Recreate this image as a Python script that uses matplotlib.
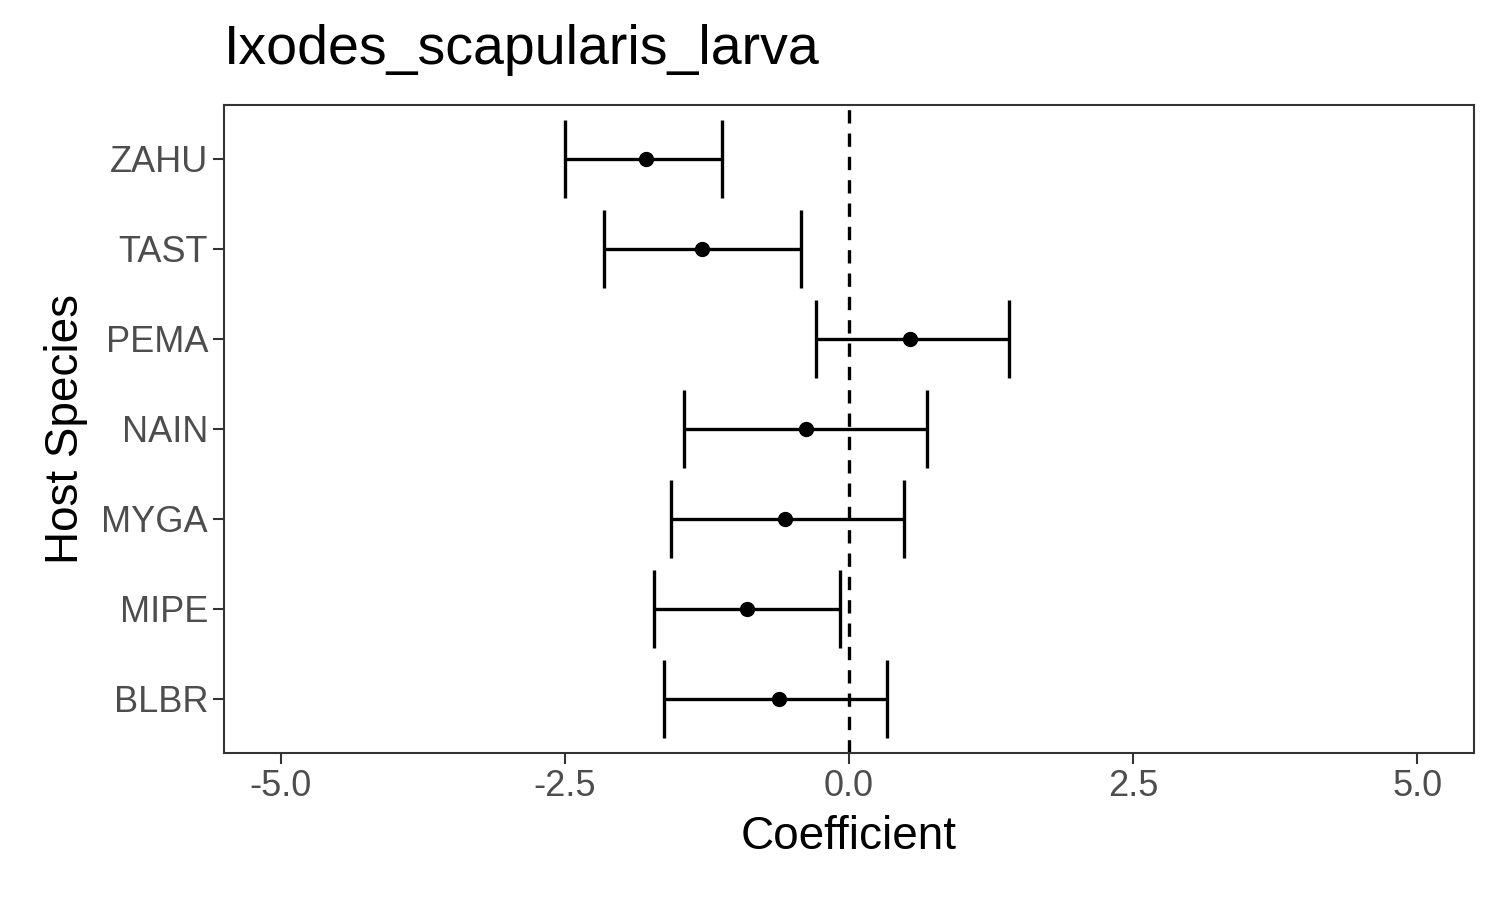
import matplotlib
matplotlib.use("Agg")
import matplotlib.pyplot as plt

species = ["BLBR", "MIPE", "MYGA", "NAIN", "PEMA", "TAST", "ZAHU"]
coef = [-0.62, -0.90, -0.56, -0.38, 0.54, -1.29, -1.79]
lower = [-1.63, -1.72, -1.57, -1.45, -0.29, -2.16, -2.50]
upper = [0.33, -0.08, 0.48, 0.69, 1.41, -0.42, -1.12]
xticks = [-5.0, -2.5, 0.0, 2.5, 5.0]

plt.rcParams['font.family'] = ['Liberation Sans', 'DejaVu Sans']
fig = plt.figure(figsize=(15, 9), dpi=100)
ax = fig.add_axes([224/1500, 1-753/900, (1474-224)/1500, (753-105)/900])
y = list(range(1, len(species)+1))
xerr = [[c-l for c, l in zip(coef, lower)], [u-c for c, u in zip(coef, upper)]]
ax.errorbar(coef, y, xerr=xerr, fmt='o', color='black', ms=10, elinewidth=2.4,
            capsize=28, capthick=2.4)
ax.axvline(0, color='black', ls=(0, (4, 3)), lw=2.4)
ax.set_xlim(-5.5, 5.5)
ax.set_ylim(0.4, 7.6)
ax.set_yticks(y)
ax.set_yticklabels(species)
ax.set_xticks(xticks)
ax.set_xticklabels([f"{v:.1f}" for v in xticks])
ax.tick_params(labelsize=26, labelcolor='#4d4d4d', color='#333333', length=8, width=1.5)
for s in ax.spines.values():
    s.set_color('#333333'); s.set_linewidth(1.5)
ax.set_xlabel("Coefficient", fontsize=33, labelpad=8)
ax.set_ylabel("Host Species", fontsize=33, labelpad=10)
fig.text(224/1500, 1-50/900, "Ixodes_scapularis_larva", fontsize=40, va='center', ha='left')
fig.savefig("out.png", dpi=100)
